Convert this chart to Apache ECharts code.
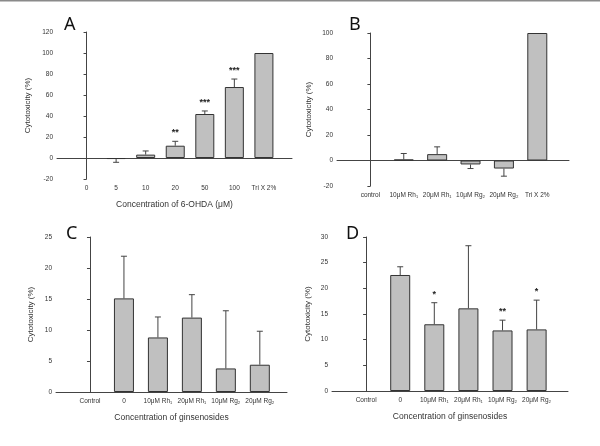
<!DOCTYPE html>
<html><head><meta charset="utf-8">
<script src="https://cdn.jsdelivr.net/npm/echarts@6/dist/echarts.min.js"></script>
<style>html,body{margin:0;padding:0;background:#fff}#c{width:600px;height:446px}</style>
</head><body><div id="c"></div>
<script>
// Panel A
const catsA = ['0', '5', '10', '20', '50', '100', 'Tri X 2%'];
const valsA = [0, -1, 3.2, 11.7, 41.9, 67.6, 100];
const errA = [0, 3.1, 3.5, 4.2, 2.9, 7.6, 0];
const starsA = ['', '', '', '**', '***', '***', ''];
const ticksA = [-20, 0, 20, 40, 60, 80, 100, 120];
// Panel B
const catsB = ['control', '10μM Rh₁', '20μM Rh₁', '10μM Rg₂', '20μM Rg₂', 'Tri X 2%'];
const valsB = [0, 0.8, 5, -3.1, -6.3, 100];
const errB = [0, 4.7, 5.7, 3.2, 6.0, 0];
const starsB = ['', '', '', '', '', ''];
const ticksB = [-20, 0, 20, 40, 60, 80, 100];
// Panel C
const catsC = ['Control', '0', '10μM Rh₁', '20μM Rh₁', '10μM Rg₂', '20μM Rg₂'];
const valsC = [0, 15.1, 8.8, 12.0, 3.8, 4.4];
const errC = [0, 6.8, 3.3, 3.7, 9.3, 5.4];
const starsC = ['', '', '', '', '', ''];
const ticksC = [0, 5, 10, 15, 20, 25];
// Panel D
const catsD = ['Control', '0', '10μM Rh₁', '20μM Rh₁', '10μM Rg₂', '20μM Rg₂'];
const valsD = [0, 22.6, 13.0, 16.1, 11.8, 12.0];
const errD = [0, 1.6, 4.2, 12.2, 2.0, 5.7];
const starsD = ['', '', '*', '', '**', '*'];
const ticksD = [0, 5, 10, 15, 20, 25, 30];

const FONT = 'Liberation Sans';
const panels = [
  {cats: catsA, vals: valsA, err: errA, stars: starsA, ticks: ticksA, grid: {left: 57, top: 32, width: 235, height: 147}, xmax: 6.95, xname: 'Concentration of 6-OHDA (μM)', ygap: 25, bw: 19},
  {cats: catsB, vals: valsB, err: errB, stars: starsB, ticks: ticksB, grid: {left: 337, top: 33, width: 232, height: 153}, xmax: 5.95, xname: '', ygap: 24, bw: 20},
  {cats: catsC, vals: valsC, err: errC, stars: starsC, ticks: ticksC, grid: {left: 56, top: 237, width: 231, height: 155}, xmax: 5.8, xname: 'Concentration of ginsenosides', ygap: 21, bw: 20},
  {cats: catsD, vals: valsD, err: errD, stars: starsD, ticks: ticksD, grid: {left: 332, top: 237, width: 236, height: 154}, xmax: 5.92, xname: 'Concentration of ginsenosides', ygap: 20, bw: 20}
];

const grid = [], xAxis = [], yAxis = [], series = [];
panels.forEach((p, i) => {
  grid.push(p.grid);
  const ymin = p.ticks[0], ymax = p.ticks[p.ticks.length - 1];
  const step = p.ticks[1] - p.ticks[0];
  // zero line axis
  xAxis.push({type: 'value', gridIndex: i, min: -1, max: p.xmax, interval: 1,
    axisLine: {show: true, onZero: true, lineStyle: {color: '#444', width: 1}},
    axisTick: {show: false}, axisLabel: {show: false}, splitLine: {show: false}});
  // label axis at bottom
  xAxis.push({type: 'value', gridIndex: i, min: -1, max: p.xmax, interval: 1, position: 'bottom',
    axisLine: {show: false, onZero: false}, axisTick: {show: false}, splitLine: {show: false},
    name: p.xname, nameLocation: 'middle', nameGap: 21,
    nameTextStyle: {fontFamily: FONT, fontSize: 8.5, color: '#333'},
    axisLabel: {fontFamily: FONT, fontSize: 6.5, color: '#333', margin: 6,
      showMinLabel: true, showMaxLabel: true,
      formatter: v => (Number.isInteger(v) && v >= 0 && v < p.cats.length) ? p.cats[v] : ''}});
  yAxis.push({type: 'value', gridIndex: i, min: ymin, max: ymax, interval: step,
    axisLine: {show: true, lineStyle: {color: '#444', width: 1}},
    axisTick: {show: true, inside: false, length: 3, lineStyle: {color: '#444'}},
    splitLine: {show: false},
    axisLabel: {fontFamily: FONT, fontSize: 6.5, color: '#333', margin: 4},
    name: 'Cytotoxicity (%)', nameLocation: 'middle', nameGap: p.ygap,
    nameTextStyle: {fontFamily: FONT, fontSize: 8, color: '#333'}});
  series.push({type: 'bar', xAxisIndex: i * 2, yAxisIndex: i, barWidth: p.bw,
    data: p.vals.map((v, k) => [k, v === 0 ? '-' : v]),
    itemStyle: {color: '#c0c0c0', borderColor: '#333', borderWidth: 1}, silent: true});
  series.push({type: 'custom', xAxisIndex: i * 2, yAxisIndex: i, silent: true, z: 5,
    data: p.vals.map((v, k) => [k, v, p.err[k]]),
    renderItem: (params, api) => {
      const k = api.value(0), v = api.value(1), e = api.value(2);
      const star = p.stars[k];
      const children = [];
      const sign = v < 0 ? -1 : 1;
      const a = api.coord([k, v]);
      const b = api.coord([k, v + sign * e]);
      if (e > 0) {
        children.push({type: 'line', shape: {x1: a[0], y1: a[1], x2: b[0], y2: b[1]}, style: {stroke: '#444', lineWidth: 1}});
        children.push({type: 'line', shape: {x1: b[0] - 3, y1: b[1], x2: b[0] + 3, y2: b[1]}, style: {stroke: '#444', lineWidth: 1}});
      }
      if (star) {
        children.push({type: 'text', style: {text: star, x: b[0], y: b[1] - 4, textAlign: 'center', textVerticalAlign: 'bottom', fontSize: 9, fontFamily: FONT, fill: '#222', fontWeight: 'bold'}});
      }
      return {type: 'group', children};
    }});
});

const chart = echarts.init(document.getElementById('c'), null, {renderer: 'canvas'});
chart.setOption({
  animation: false,
  backgroundColor: '#fff',
  grid, xAxis, yAxis, series,
  graphic: [
    {type: 'line', shape: {x1: 0, y1: 0.5, x2: 600, y2: 0.5}, style: {stroke: '#8a8a8a', lineWidth: 2}},
    {type: 'text', left: 64, top: 16, style: {text: 'A', fontSize: 18, fontFamily: 'Noto Sans', fill: '#111'}},
    {type: 'text', left: 349, top: 16, style: {text: 'B', fontSize: 18, fontFamily: 'Noto Sans', fill: '#111'}},
    {type: 'text', left: 66, top: 225, style: {text: 'C', fontSize: 18, fontFamily: 'Noto Sans', fill: '#111'}},
    {type: 'text', left: 346, top: 225, style: {text: 'D', fontSize: 18, fontFamily: 'Noto Sans', fill: '#111'}}
  ]
});
</script>
</body></html>
